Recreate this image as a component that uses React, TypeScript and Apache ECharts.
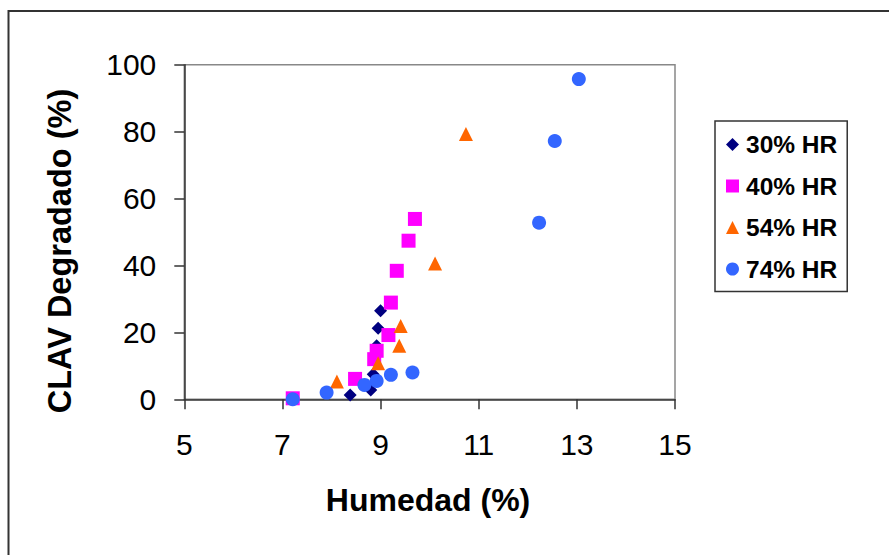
import React, { useEffect, useRef } from "react";
import * as echarts from "echarts";

const seriesNames = ["30% HR", "40% HR", "54% HR", "74% HR"];

const hr30: [number, number][] = [
  [9.0, 26.5],
  [8.95, 21.2],
  [8.92, 16.0],
  [8.85, 7.5],
  [8.8, 2.8],
  [8.38, 1.3],
];
const hr40: [number, number][] = [
  [9.7, 53.9],
  [9.57, 47.4],
  [9.33, 38.4],
  [9.21, 28.9],
  [9.16, 19.2],
  [8.92, 14.5],
  [8.87, 12.0],
  [8.48, 6.1],
  [7.21, 0.3],
];
const hr54: [number, number][] = [
  [10.74, 79.3],
  [10.11, 40.6],
  [9.41, 21.9],
  [9.38, 16.0],
  [8.95, 10.8],
  [8.11, 5.3],
  [7.21, -0.5],
];
const hr74: [number, number][] = [
  [13.04, 95.7],
  [12.55, 77.2],
  [12.23, 52.8],
  [9.65, 8.0],
  [9.21, 7.3],
  [8.92, 5.5],
  [8.67, 4.3],
  [7.9, 2.0],
  [7.21, 0.0],
];

const xTitle = "Humedad (%)";
const yTitle = "CLAV Degradado (%)";

const FONT = "'Liberation Sans', Arial, sans-serif";

export default function App() {
  const ref = useRef<HTMLDivElement>(null);
  useEffect(() => {
    document.body.style.margin = "0";
    document.body.style.overflow = "hidden";
    if (!ref.current) return;
    const chart = echarts.init(ref.current, undefined, { renderer: "svg" });
    const mk = (name: string, data: [number, number][], symbol: string, size: number, color: string) => ({
      name,
      type: "scatter",
      data,
      symbol,
      symbolSize: size,
      itemStyle: { color, opacity: 1 },
      emphasis: { disabled: true },
    });
    chart.setOption({
      animation: false,
      backgroundColor: "#ffffff",
      grid: {
        left: 184.3,
        top: 64.7,
        right: 889 - 675,
        bottom: 555 - 399.3,
        show: true,
        borderColor: "#888888",
        borderWidth: 1.5,
        backgroundColor: "transparent",
      },
      xAxis: {
        type: "value",
        min: 5,
        max: 15,
        interval: 2,
        axisLine: { show: true, onZero: false, lineStyle: { color: "#333333", width: 1.5 } },
        axisTick: { show: true, inside: false, length: 10, lineStyle: { color: "#333333", width: 1.5 } },
        splitLine: { show: false },
        axisLabel: { fontSize: 30, color: "#000000", fontFamily: FONT, margin: 30 },
      },
      yAxis: {
        type: "value",
        min: 0,
        max: 100,
        interval: 20,
        axisLine: { show: true, onZero: false, lineStyle: { color: "#333333", width: 1.5 } },
        axisTick: { show: true, inside: false, length: 10, lineStyle: { color: "#333333", width: 1.5 } },
        splitLine: { show: false },
        axisLabel: { fontSize: 30, color: "#000000", fontFamily: FONT, margin: 28 },
      },
      legend: {
        orient: "vertical",
        left: 715,
        top: 121,
        padding: [11, 10, 10, 11],
        itemGap: 16.5,
        itemWidth: 13,
        itemHeight: 13,
        borderColor: "#333333",
        borderWidth: 1.5,
        backgroundColor: "#ffffff",
        data: seriesNames,
        textStyle: { fontSize: 24.5, fontWeight: "bold", color: "#000000", fontFamily: FONT, padding: [0, 0, 0, 2] },
      },
      graphic: [
        {
          type: "rect",
          silent: true,
          shape: { x: 8.5, y: 11, width: 1200, height: 1200 },
          style: { fill: "none", stroke: "#333333", lineWidth: 2 },
        },
        {
          type: "text",
          x: 428,
          y: 500,
          style: {
            text: xTitle,
            fontSize: 32,
            fontWeight: "bold",
            fontFamily: FONT,
            fill: "#000000",
            align: "center",
            verticalAlign: "middle",
          },
        },
        {
          type: "text",
          x: 60,
          y: 251,
          rotation: Math.PI / 2,
          style: {
            text: yTitle,
            fontSize: 32.5,
            fontWeight: "bold",
            fontFamily: FONT,
            fill: "#000000",
            align: "center",
            verticalAlign: "middle",
          },
        },
      ],
      series: [
        mk(seriesNames[0], hr30, "diamond", 13, "#000080"),
        mk(seriesNames[1], hr40, "rect", 14, "#FF00FF"),
        mk(seriesNames[2], hr54, "triangle", 14, "#FF6600"),
        mk(seriesNames[3], hr74, "circle", 14, "#3366FF"),
      ],
    });
    return () => chart.dispose();
  }, []);
  return <div ref={ref} style={{ width: 889, height: 555 }} />;
}
